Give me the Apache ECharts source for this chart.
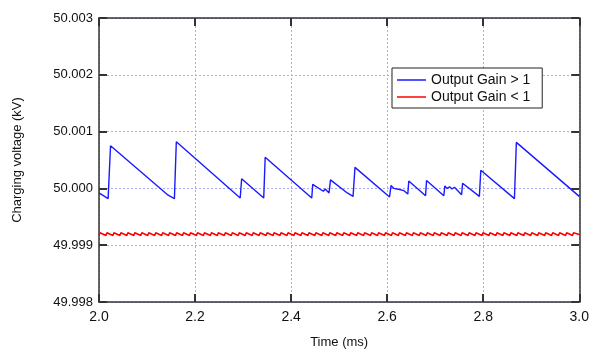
<!doctype html>
<html lang="en">
  <head>
    <meta charset="UTF-8" />
    <title>Charging voltage</title>
    <style>
      html,
      body {
        width: 100%;
        height: 100%;
        margin: 0;
        padding: 0;
        background: #fff;
      }
      #Echart {
        width: 592px;
        height: 354px;
      }
    </style>
  </head>

  <body>
    <div id="Echart"></div>
    <script type="text/javascript" src="https://cdn.jsdelivr.net/npm/echarts@6/dist/echarts.min.js"></script>
    <script type="text/javascript">
      // Output Gain > 1 (blue)
      const blueTime = [
        2.000, 2.019, 2.024, 2.144, 2.147, 2.157, 2.161, 2.294, 2.297, 2.343,
        2.346, 2.443, 2.445, 2.467, 2.471, 2.479, 2.482, 2.517, 2.521, 2.529,
        2.533, 2.605, 2.608, 2.614, 2.618, 2.621, 2.624, 2.635, 2.643, 2.645,
        2.680, 2.682, 2.718, 2.720, 2.725, 2.730, 2.735, 2.740, 2.755, 2.757,
        2.792, 2.795, 2.865, 2.869, 3.000,
      ]
      const blueVolt = [
        49.99992, 49.99982, 50.00075, 49.99988, 49.99989, 49.99982, 50.00082, 49.99983, 50.00017, 49.99983,
        50.00055, 49.99983, 50.00007, 49.99995, 49.99999, 49.99992, 50.00015, 49.99992, 49.99994, 49.99986,
        50.00037, 49.99985, 50.00005, 50.00000, 50.00002, 49.99999, 50.00000, 49.99996, 49.9999, 50.00013,
        49.99987, 50.00014, 49.99987, 50.00004, 50.00000, 50.00003, 49.99999, 50.00002, 49.99989, 50.00009,
        49.99986, 50.00032, 49.99982, 50.00081, 49.99986,
      ]

      // Output Gain < 1 (red)
      const redTime = [
        2.0000, 2.0020, 2.0145, 2.0165, 2.0290, 2.0310, 2.0435, 2.0455, 2.0580, 2.0600,
        2.0725, 2.0745, 2.0870, 2.0890, 2.1015, 2.1035, 2.1160, 2.1180, 2.1305, 2.1325,
        2.1450, 2.1470, 2.1595, 2.1615, 2.1740, 2.1760, 2.1885, 2.1905, 2.2030, 2.2050,
        2.2175, 2.2195, 2.2320, 2.2340, 2.2465, 2.2485, 2.2610, 2.2630, 2.2755, 2.2775,
        2.2900, 2.2920, 2.3045, 2.3065, 2.3190, 2.3210, 2.3335, 2.3355, 2.3480, 2.3500,
        2.3625, 2.3645, 2.3770, 2.3790, 2.3915, 2.3935, 2.4060, 2.4080, 2.4205, 2.4225,
        2.4350, 2.4370, 2.4495, 2.4515, 2.4640, 2.4660, 2.4785, 2.4805, 2.4930, 2.4950,
        2.5075, 2.5095, 2.5220, 2.5240, 2.5365, 2.5385, 2.5510, 2.5530, 2.5655, 2.5675,
        2.5800, 2.5820, 2.5945, 2.5965, 2.6090, 2.6110, 2.6235, 2.6255, 2.6380, 2.6400,
        2.6525, 2.6545, 2.6670, 2.6690, 2.6815, 2.6835, 2.6960, 2.6980, 2.7105, 2.7125,
        2.7250, 2.7270, 2.7395, 2.7415, 2.7540, 2.7560, 2.7685, 2.7705, 2.7830, 2.7850,
        2.7975, 2.7995, 2.8120, 2.8140, 2.8265, 2.8285, 2.8410, 2.8430, 2.8555, 2.8575,
        2.8700, 2.8720, 2.8845, 2.8865, 2.8990, 2.9010, 2.9135, 2.9155, 2.9280, 2.9300,
        2.9425, 2.9445, 2.9570, 2.9590, 2.9715, 2.9735, 2.9860, 2.9880, 3.0000,
      ]
      const redVolt = [
        49.99917, 49.99922, 49.99917, 49.99922, 49.99917, 49.99922, 49.99917, 49.99922, 49.99917, 49.99922,
        49.99917, 49.99922, 49.99917, 49.99922, 49.99917, 49.99922, 49.99917, 49.99922, 49.99917, 49.99922,
        49.99917, 49.99922, 49.99917, 49.99922, 49.99917, 49.99922, 49.99917, 49.99922, 49.99917, 49.99922,
        49.99917, 49.99922, 49.99917, 49.99922, 49.99917, 49.99922, 49.99917, 49.99922, 49.99917, 49.99922,
        49.99917, 49.99922, 49.99917, 49.99922, 49.99917, 49.99922, 49.99917, 49.99922, 49.99917, 49.99922,
        49.99917, 49.99922, 49.99917, 49.99922, 49.99917, 49.99922, 49.99917, 49.99922, 49.99917, 49.99922,
        49.99917, 49.99922, 49.99917, 49.99922, 49.99917, 49.99922, 49.99917, 49.99922, 49.99917, 49.99922,
        49.99917, 49.99922, 49.99917, 49.99922, 49.99917, 49.99922, 49.99917, 49.99922, 49.99917, 49.99922,
        49.99917, 49.99922, 49.99917, 49.99922, 49.99917, 49.99922, 49.99917, 49.99922, 49.99917, 49.99922,
        49.99917, 49.99922, 49.99917, 49.99922, 49.99917, 49.99922, 49.99917, 49.99922, 49.99917, 49.99922,
        49.99917, 49.99922, 49.99917, 49.99922, 49.99917, 49.99922, 49.99917, 49.99922, 49.99917, 49.99922,
        49.99917, 49.99922, 49.99917, 49.99922, 49.99917, 49.99922, 49.99917, 49.99922, 49.99917, 49.99922,
        49.99917, 49.99922, 49.99917, 49.99922, 49.99917, 49.99922, 49.99917, 49.99922, 49.99917, 49.99922,
        49.99917, 49.99922, 49.99917, 49.99922, 49.99917, 49.99922, 49.99917, 49.99922, 49.99919,
      ]

      const xTicks = { min: 2.0, max: 3.0, interval: 0.2 }
      const yTicks = { min: 49.998, max: 50.003, interval: 0.001 }
      const legendNames = ['Output Gain > 1', 'Output Gain < 1']

      const zip = (a, b) => a.map((v, i) => [v, b[i]])

      const fontFamily = "'Liberation Sans', Arial, sans-serif"
      const frameColor = '#333'
      const gridLine = () => ({ show: true, lineStyle: { color: '#a8a8ff', width: 1, type: [2, 2] } })
      const tick = () => ({ show: true, inside: true, length: 8, lineStyle: { color: frameColor, width: 2 } })
      const axisLine = () => ({ show: true, onZero: false, lineStyle: { color: frameColor, width: 1.5 } })

      let chart = echarts.init(document.getElementById('Echart'))
      let option = {
        animation: false,
        textStyle: { fontFamily: fontFamily },
        grid: { left: 99, right: 11, top: 18, bottom: 50 },
        legend: {
          orient: 'vertical',
          left: 392,
          top: 68,
          data: legendNames,
          icon: 'rect',
          itemWidth: 29,
          itemHeight: 1.5,
          itemGap: 3,
          padding: [5, 12, 4, 5],
          borderColor: '#222',
          borderWidth: 1,
          borderRadius: 0,
          backgroundColor: '#fff',
          textStyle: { fontSize: 14, color: '#111', fontFamily: fontFamily, lineHeight: 14 },
        },
        xAxis: [
          {
            type: 'value',
            position: 'bottom',
            min: xTicks.min,
            max: xTicks.max,
            interval: xTicks.interval,
            name: 'Time (ms)',
            nameLocation: 'middle',
            nameGap: 34,
            nameTextStyle: { fontSize: 13, color: '#111' },
            axisLine: axisLine(),
            axisTick: tick(),
            splitLine: gridLine(),
            axisLabel: {
              margin: 8,
              fontSize: 14,
              color: '#111',
              formatter: (v) => v.toFixed(1),
            },
          },
          {
            type: 'value',
            position: 'top',
            min: xTicks.min,
            max: xTicks.max,
            interval: xTicks.interval,
            axisLine: axisLine(),
            axisTick: tick(),
            splitLine: { show: false },
            axisLabel: { show: false },
          },
        ],
        yAxis: [
          {
            type: 'value',
            position: 'left',
            min: yTicks.min,
            max: yTicks.max,
            interval: yTicks.interval,
            name: 'Charging voltage (kV)',
            nameLocation: 'middle',
            nameGap: 75,
            nameTextStyle: { fontSize: 13, color: '#111' },
            axisLine: axisLine(),
            axisTick: tick(),
            splitLine: gridLine(),
            axisLabel: {
              margin: 6,
              fontSize: 13,
              color: '#111',
              formatter: (v) => v.toFixed(3),
            },
          },
          {
            type: 'value',
            position: 'right',
            min: yTicks.min,
            max: yTicks.max,
            interval: yTicks.interval,
            axisLine: axisLine(),
            axisTick: tick(),
            splitLine: { show: false },
            axisLabel: { show: false },
          },
        ],
        series: [
          {
            name: legendNames[0],
            type: 'line',
            data: zip(blueTime, blueVolt),
            showSymbol: false,
            color: '#1a1aff',
            lineStyle: { width: 1.4 },
            z: 3,
          },
          {
            name: legendNames[1],
            type: 'line',
            data: zip(redTime, redVolt),
            showSymbol: false,
            color: '#ff0000',
            lineStyle: { width: 1.5 },
            z: 3,
          },
        ],
      }
      chart.setOption(option)
    </script>
  </body>
</html>
